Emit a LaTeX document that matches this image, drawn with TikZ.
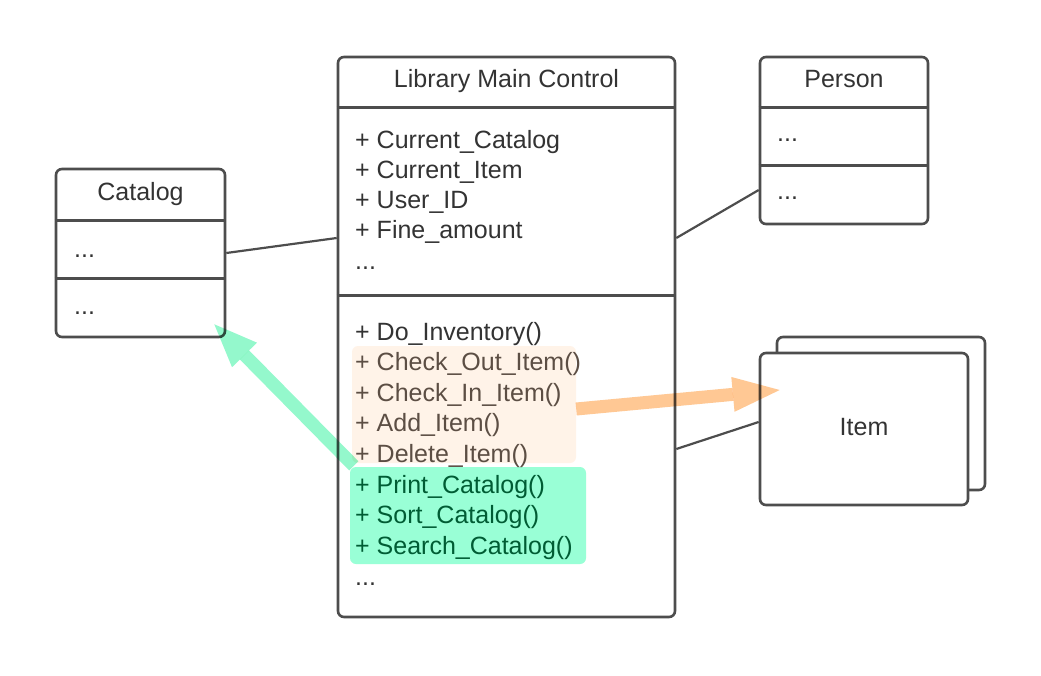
\documentclass[tikz,border=0pt]{standalone}
\usepackage{fontspec}
\setmainfont{Liberation Sans}
\usepackage{tikz}
\usetikzlibrary{arrows.meta}
\usetikzlibrary{positioning}
\usepackage{color}
\definecolor{Line-1}{RGB}{77,77,77}
\definecolor{Text-1}{RGB}{51,51,51}
\definecolor{Orange-1}{RGB}{255,243,232}
\definecolor{Orange-2}{RGB}{255,200,148}
\definecolor{Orange-3}{RGB}{92,78,68}
\definecolor{Green-1}{RGB}{153,255,214}
\definecolor{Green-2}{RGB}{148,248,204}
\definecolor{Green-3}{RGB}{0,92,52}

\begin{document}
\begin{tikzpicture}[x=1pt, y=-1pt]
    \tikzset{ cls/.style ={draw=Line-1, line width=2.6pt, fill=white, rounded corners=6pt, inner sep=0pt} }
    \tikzset{ sep/.style ={draw=Line-1, line width=2.6pt} }
    \tikzset{ lnk/.style ={draw=Line-1, line width=2.2pt} }
    \tikzset{ ttl/.style ={text=Text-1, font=\fontsize{25}{30}\selectfont, anchor=base} }
    \tikzset{ mbr/.style ={text=Text-1, font=\fontsize{25}{30}\selectfont, anchor=base west, inner sep=0pt} }
    \tikzset{ hl/.style  ={rounded corners=6pt, inner sep=0pt} }
    \tikzset{ harr/.style={line width=13pt, blend mode=multiply} }

    \useasboundingbox (0,0) rectangle (1041,675);

    \node[cls, minimum width=337pt, minimum height=560pt] (main)  at (506.5,337)  {};
    \node[cls, minimum width=169pt, minimum height=168pt] (cat)   at (140.5,253)  {};
    \node[cls, minimum width=168pt, minimum height=167pt] (pers)  at (844,140.5)  {};
    \node[cls, minimum width=208pt, minimum height=153pt] (itemB) at (881,413.5)  {};
    \node[cls, minimum width=208pt, minimum height=152pt] (item)  at (864,429)    {};
    \node[ttl] (itemT) at (864,435) {Item};

    \draw[sep] ([yshift=-52pt]main.north west) -- ([yshift=-52pt]main.north east);
    \draw[sep] ([yshift=-240pt]main.north west) -- ([yshift=-240pt]main.north east);
    \draw[sep] ([yshift=-53pt]cat.north west) -- ([yshift=-53pt]cat.north east);
    \draw[sep] ([yshift=-111pt]cat.north west) -- ([yshift=-111pt]cat.north east);
    \draw[sep] ([yshift=-52pt]pers.north west) -- ([yshift=-52pt]pers.north east);
    \draw[sep] ([yshift=-110pt]pers.north west) -- ([yshift=-110pt]pers.north east);

    \node[hl, fill=Orange-1, minimum width=224pt, minimum height=117pt] (outHl) at (464,404.5) {};
    \node[hl, fill=Green-1,  minimum width=236pt, minimum height=97pt]  (catHl) at (468,515.5) {};

    \node[ttl] (mainT) at (506.5,87) {Library Main Control};
    \node[ttl] (catT)  at (140.5,200) {Catalog};
    \node[ttl] (persT) at (844,87)    {Person};

    \foreach \t [count=\i] in {+ Current\_Catalog, + Current\_Item, + User\_ID, + Fine\_amount}
        \node[mbr] (attr\i) at ({355}, {148+(\i-1)*30.3}) {\t};
    \node[mbr] (attrDots) at (355,269) {...};

    \foreach \t/\c [count=\i] in {+ Do\_Inventory()/Text-1, + Check\_Out\_Item()/Orange-3, + Check\_In\_Item()/Orange-3, + Add\_Item()/Orange-3, + Delete\_Item()/Orange-3, + Print\_Catalog()/Green-3, + Sort\_Catalog()/Green-3, + Search\_Catalog()/Green-3}
        \node[mbr, text=\c] (meth\i) at ({355}, {340+(\i-1)*30.6}) {\t};
    \node[mbr] (methDots) at (355,585) {...};

    \node[mbr] (catDots1)  at (74,257) {...};
    \node[mbr] (catDots2)  at (74,314) {...};
    \node[mbr] (persDots1) at (777,141) {...};
    \node[mbr] (persDots2) at (777,199) {...};

    \draw[lnk] (cat.east) -- ([yshift=99pt]main.west);
    \draw[lnk] ([yshift=-49.5pt]pers.west) -- ([yshift=99pt]main.east);
    \draw[lnk] ([yshift=7pt]item.west) -- ([yshift=-112pt]main.east);

    \draw[harr, draw=Orange-2, -{Triangle[length=47pt, width=35pt, line width=0pt, fill=Orange-2]}] ([yshift=-4.5pt]outHl.east) -- ([xshift=21pt, yshift=39pt]item.west);
    \draw[harr, draw=Green-2, -{Triangle[length=43pt, width=35pt, line width=0pt, fill=Green-2]}] ([xshift=4pt, yshift=1pt]catHl.north west) -- ([xshift=-12pt, yshift=14pt]cat.south east);
\end{tikzpicture}
\end{document}
